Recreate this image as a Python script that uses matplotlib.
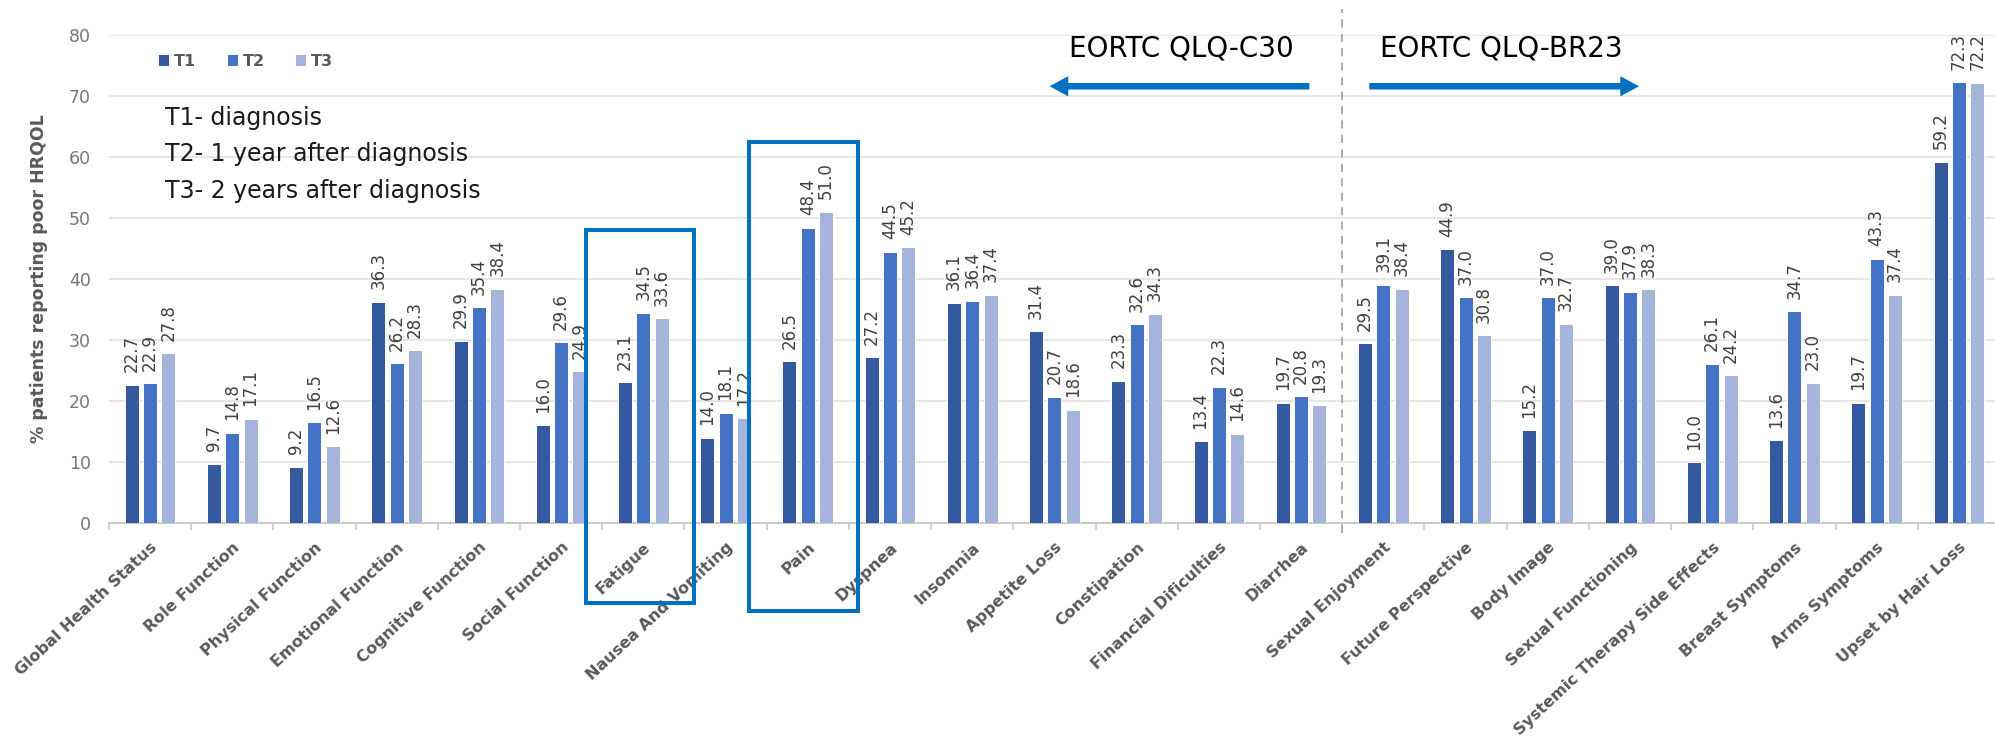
import matplotlib
matplotlib.use("Agg")
import matplotlib.pyplot as plt
from matplotlib.patches import Rectangle, FancyArrowPatch
import numpy as np

# Domains of the EORTC QLQ-C30 and QLQ-BR23 questionnaires
categories = [
    "Global Health Status", "Role Function", "Physical Function",
    "Emotional Function", "Cognitive Function", "Social Function",
    "Fatigue", "Nausea And Vomiting", "Pain", "Dyspnea", "Insomnia",
    "Appetite Loss", "Constipation", "Financial Dificulties", "Diarrhea",
    "Sexual Enjoyment", "Future Perspective", "Body Image",
    "Sexual Functioning", "Systemic Therapy Side Effects",
    "Breast Symptoms", "Arms Symptoms", "Upset by Hair Loss",
]

# % patients reporting poor HRQOL at each time point
t1 = [22.7, 9.7, 9.2, 36.3, 29.9, 16.0, 23.1, 14.0, 26.5, 27.2, 36.1, 31.4,
      23.3, 13.4, 19.7, 29.5, 44.9, 15.2, 39.0, 10.0, 13.6, 19.7, 59.2]
t2 = [22.9, 14.8, 16.5, 26.2, 35.4, 29.6, 34.5, 18.1, 48.4, 44.5, 36.4, 20.7,
      32.6, 22.3, 20.8, 39.1, 37.0, 37.0, 37.9, 26.1, 34.7, 43.3, 72.3]
t3 = [27.8, 17.1, 12.6, 28.3, 38.4, 24.9, 33.6, 17.2, 51.0, 45.2, 37.4, 18.6,
      34.3, 14.6, 19.3, 38.4, 30.8, 32.7, 38.3, 24.2, 23.0, 37.4, 72.2]

series_names = ["T1", "T2", "T3"]
series_colors = ["#34599E", "#4472C4", "#A5B4DB"]
notes = ["T1- diagnosis", "T2- 1 year after diagnosis", "T3- 2 years after diagnosis"]
y_ticks = [0, 10, 20, 30, 40, 50, 60, 70, 80]

BLUE = "#0070C0"
GREY_TXT = "#595959"

fig = plt.figure(figsize=(19.95, 7.36), dpi=100)
ax = fig.add_axes([0.0546, 0.2894, 0.9479, 0.663])

x = np.arange(len(categories))
bar_w = 0.17
step = 0.223
bars = []
for k, (vals, name, col) in enumerate(zip([t1, t2, t3], series_names, series_colors)):
    b = ax.bar(x + (k - 1) * step, vals, width=bar_w, color=col,
               edgecolor="white", linewidth=0.7, label=name, zorder=3)
    bars.append(b)
    ax.bar_label(b, labels=[f"{v:.1f}" for v in vals], rotation=90,
                 padding=9, fontsize=12, color="#404040", zorder=4)

ax.set_xlim(-0.5, len(categories) - 0.5)
ax.set_ylim(0, 80)
ax.set_yticks(y_ticks)
ax.tick_params(axis="y", length=0, pad=13, labelsize=12.5, labelcolor="#767676")
ax.yaxis.grid(True, color="#e6e6e6", linewidth=1.4, zorder=0)
ax.set_axisbelow(True)

# category labels at centres, tick marks at the category boundaries
ax.set_xticks(x)
ax.set_xticklabels(categories, rotation=43, ha="right", rotation_mode="anchor",
                   fontsize=11.5, fontweight="bold", color=GREY_TXT)
ax.tick_params(axis="x", which="major", length=0, pad=12)
ax.set_xticks(np.arange(-0.5, len(categories), 1.0), minor=True)
ax.tick_params(axis="x", which="minor", length=5, width=1.2, color="#c8c8c8")

for side in ["top", "right", "left"]:
    ax.spines[side].set_visible(False)
ax.spines["bottom"].set_color("#c8c8c8")
ax.spines["bottom"].set_linewidth(1.4)

ax.set_ylabel("% patients reporting poor HRQOL", fontsize=12.5,
              fontweight="bold", color=GREY_TXT)
ax.yaxis.set_label_coords(-0.032, 0.5)

leg = ax.legend(handles=bars, loc="upper left", bbox_to_anchor=(0.026, 0.962),
                ncol=3, frameon=False, borderpad=0, borderaxespad=0,
                handlelength=0.7, handleheight=0.7, handletextpad=0.3,
                columnspacing=1.9, prop={"size": 11.5, "weight": "bold"})
for t in leg.get_texts():
    t.set_color(GREY_TXT)

for i, line in enumerate(notes):
    ax.text(0.0296, [0.830, 0.756, 0.680][i], line, transform=ax.transAxes,
            fontsize=17, color="#1a1a1a", va="center", ha="left")

# questionnaire split
ax.plot([14.5, 14.5], [-1.6, 84.2], color="#a6a6a6", linewidth=1.3,
        linestyle=(0, (4.5, 3.5)), clip_on=False, zorder=2)

ax.text(12.54, 76.4, "EORTC QLQ-C30", fontsize=20, color="black",
        ha="center", va="baseline")
ax.text(16.43, 76.4, "EORTC QLQ-BR23", fontsize=20, color="black",
        ha="center", va="baseline")

arrow_kw = dict(arrowstyle="simple,head_length=13.5,head_width=14.5,tail_width=4.7",
                mutation_scale=1, color=BLUE, linewidth=0, shrinkA=0, shrinkB=0)
ax.add_patch(FancyArrowPatch((14.1, 71.6), (10.94, 71.6), **arrow_kw))
ax.add_patch(FancyArrowPatch((14.83, 71.6), (18.11, 71.6), **arrow_kw))

# highlighted domains
for (x0, x1, y0, y1) in [(5.303, 6.617, -13.1, 48.0), (7.286, 8.612, -14.4, 62.5)]:
    ax.add_patch(Rectangle((x0, y0), x1 - x0, y1 - y0, fill=False,
                           edgecolor=BLUE, linewidth=2.9, clip_on=False, zorder=5))

fig.savefig("out.png", dpi=100)
